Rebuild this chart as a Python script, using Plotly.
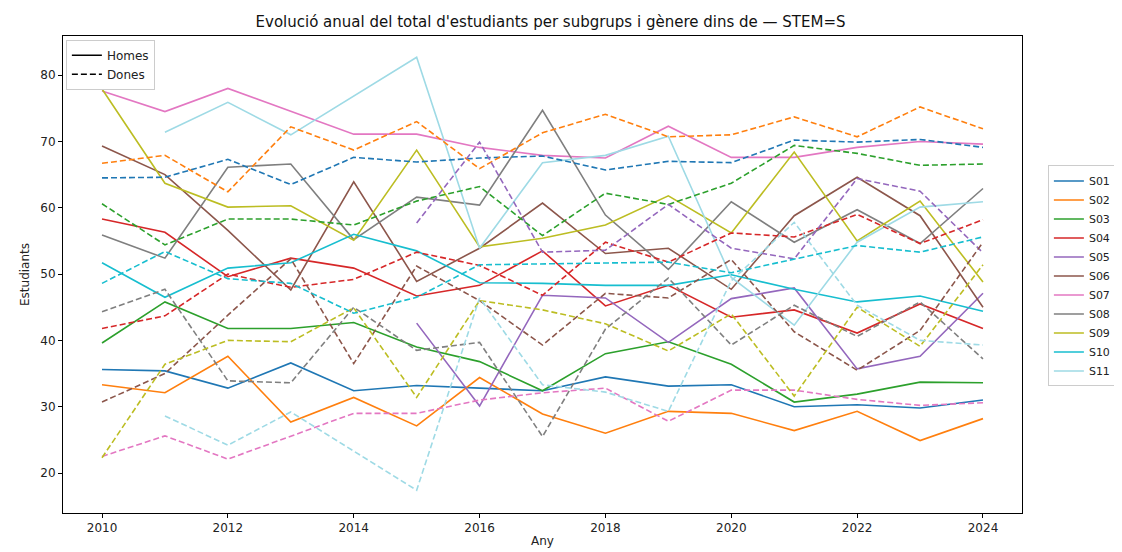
import plotly.graph_objects as go

years = list(range(2010, 2025))
groups = ["S01", "S02", "S03", "S04", "S05", "S06", "S07", "S08", "S09", "S10", "S11"]
colors = ["#1f77b4", "#ff7f0e", "#2ca02c", "#d62728", "#9467bd", "#8c564b",
          "#e377c2", "#7f7f7f", "#bcbd22", "#17becf", "#9edae5"]

N = None
homes = {
    "S01": [35.6, 35.4, 32.8, 36.6, 32.4, 33.2, 32.8, 32.4, 34.5, 33.1, 33.3, 30.0, 30.3, 29.8, 31.0],
    "S02": [33.3, 32.1, 37.6, 27.7, 31.4, 27.1, 34.4, 28.9, 26.0, 29.3, 29.0, 26.4, 29.3, 24.9, 28.2],
    "S03": [39.6, 45.8, 41.8, 41.8, 42.7, 39.0, 36.8, 32.4, 38.0, 39.8, 36.4, 30.7, 31.9, 33.7, 33.6],
    "S04": [58.3, 56.3, 49.6, 52.4, 50.9, 46.7, 48.3, 53.5, 45.2, 48.3, 43.5, 44.6, 41.1, 45.5, 41.8],
    "S05": [N, N, N, N, N, 42.6, 30.1, 46.8, 46.4, 39.7, 46.3, 47.9, 35.7, 37.6, 47.1],
    "S06": [69.3, 65.0, 56.6, 47.6, 63.9, 48.9, 53.9, 60.7, 53.1, 53.9, 47.7, 58.8, 64.6, 58.8, 45.0],
    "S07": [77.6, 74.5, 78.0, 74.5, 71.1, 71.1, 69.1, 67.9, 67.5, 72.3, 67.6, 67.6, 69.1, 70.0, 69.6],
    "S08": [55.9, 52.4, 66.1, 66.6, 55.2, 61.6, 60.4, 74.7, 58.9, 50.7, 60.9, 54.8, 59.7, 54.6, 62.9],
    "S09": [77.9, 63.7, 60.1, 60.3, 55.1, 68.7, 54.1, 55.4, 57.4, 61.8, 56.2, 68.4, 55.0, 61.0, 48.8],
    "S10": [51.7, 46.5, 50.9, 51.7, 56.0, 53.5, 48.7, 48.6, 48.3, 48.3, 49.9, 47.7, 45.8, 46.7, 44.4],
    "S11": [N, 71.4, 75.9, 71.0, 76.8, 82.7, 53.9, 66.8, 67.9, 70.8, 49.5, 42.3, 54.8, 60.1, 60.9],
}
dones = {
    "S01": [64.5, 64.6, 67.3, 63.5, 67.6, 66.9, 67.5, 67.8, 65.7, 67.0, 66.8, 70.2, 69.9, 70.3, 69.1],
    "S02": [66.7, 67.9, 62.4, 72.2, 68.7, 73.0, 65.9, 71.3, 74.1, 70.7, 71.0, 73.7, 70.7, 75.2, 71.9],
    "S03": [60.6, 54.4, 58.3, 58.3, 57.4, 61.0, 63.2, 55.8, 62.2, 60.5, 63.7, 69.4, 68.2, 66.4, 66.6],
    "S04": [41.8, 43.7, 50.0, 48.0, 49.2, 53.3, 51.3, 46.8, 54.8, 51.8, 56.2, 55.6, 59.0, 54.6, 58.2],
    "S05": [N, N, N, N, N, 57.7, 69.9, 53.3, 53.6, 60.5, 53.9, 52.3, 64.4, 62.5, 53.2],
    "S06": [30.7, 35.0, 43.8, 52.3, 36.5, 51.2, 46.0, 39.3, 47.1, 46.4, 52.2, 41.3, 35.5, 41.5, 54.8],
    "S07": [22.5, 25.6, 22.1, 25.6, 29.0, 29.0, 31.0, 32.1, 32.8, 27.8, 32.5, 32.5, 31.1, 30.2, 30.6],
    "S08": [44.3, 47.7, 33.9, 33.6, 45.0, 38.5, 39.7, 25.5, 41.7, 49.4, 39.3, 45.3, 40.6, 45.8, 37.2],
    "S09": [22.3, 36.4, 40.0, 39.8, 44.9, 31.4, 46.0, 44.6, 42.5, 38.4, 44.0, 31.6, 45.0, 39.1, 51.4],
    "S10": [48.6, 53.4, 49.3, 48.6, 44.1, 46.5, 51.4, 51.5, 51.7, 51.8, 50.2, 52.3, 54.3, 53.3, 55.6],
    "S11": [N, 28.6, 24.2, 29.2, 23.3, 17.4, 46.4, 33.3, 32.2, 29.3, 49.0, 57.8, 45.3, 40.0, 39.3],
}

fig = go.Figure()
for g, c in zip(groups, colors):
    fig.add_trace(go.Scatter(x=years, y=homes[g], mode="lines", name=g,
                             line=dict(color=c, width=1.6), legend="legend",
                             connectgaps=False))
for g, c in zip(groups, colors):
    fig.add_trace(go.Scatter(x=years, y=dones[g], mode="lines", name=g + " Dones",
                             line=dict(color=c, width=1.6, dash="6px,3px"),
                             showlegend=False, connectgaps=False))

# style legend (Homes / Dones)
fig.add_trace(go.Scatter(x=[None], y=[None], mode="lines", name="Homes",
                         line=dict(color="black", width=1.6), legend="legend2"))
fig.add_trace(go.Scatter(x=[None], y=[None], mode="lines", name="Dones",
                         line=dict(color="black", width=1.6, dash="6px,3px"), legend="legend2"))

axis_common = dict(showline=True, linecolor="black", linewidth=1, mirror=True,
                   ticks="outside", ticklen=4, tickcolor="black", showgrid=False,
                   zeroline=False, tickfont=dict(size=12, color="#222"), automargin=False)

# page body has an 8px margin, so the figure is sized/offset to compensate
fig.update_layout(
    width=1114, height=544,
    paper_bgcolor="white", plot_bgcolor="white",
    font=dict(family="DejaVu Sans", color="#222"),
    margin=dict(l=55, r=100, t=28, b=39, autoexpand=False),
    title=dict(text="Evolució anual del total d'estudiants per subgrups i gènere dins de — STEM=S",
               x=0.487, xanchor="center", y=0.974, yanchor="middle", yref="container",
               font=dict(size=15, color="#111")),
    xaxis=dict(range=[2009.38, 2024.62], tickvals=list(range(2010, 2025, 2)),
               title=dict(text="Any", font=dict(size=12), standoff=2), **axis_common),
    yaxis=dict(range=[13.97, 85.9], tickvals=[20, 30, 40, 50, 60, 70, 80],
               title=dict(text="Estudiants", font=dict(size=12), standoff=8), **axis_common),
    legend=dict(x=1.027, xanchor="left", y=0.497, yanchor="middle",
                bgcolor="white", bordercolor="#cccccc", borderwidth=1,
                font=dict(size=11), tracegroupgap=0, itemwidth=30),
    legend2=dict(x=0.003, xanchor="left", y=0.992, yanchor="top",
                 bgcolor="white", bordercolor="#cccccc", borderwidth=1,
                 font=dict(size=12), itemwidth=30),
)

fig.write_html("out.html")
